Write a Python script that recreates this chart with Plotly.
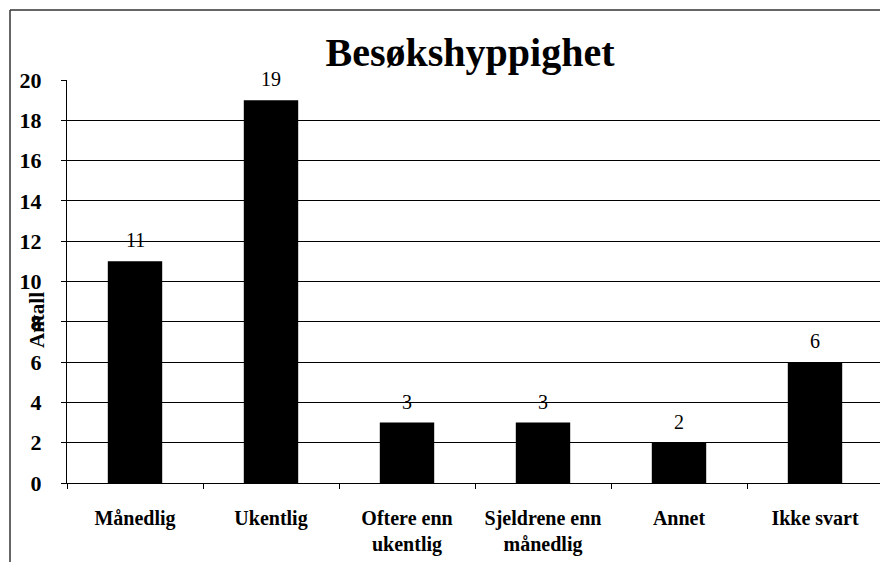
import plotly.graph_objects as go

categories = ["Månedlig", "Ukentlig", "Oftere enn<br>ukentlig", "Sjeldrene enn<br>månedlig", "Annet", "Ikke svart"]
values = [11, 19, 3, 3, 2, 6]
y_ticks = [0, 2, 4, 6, 8, 10, 12, 14, 16, 18, 20]

W, H = 880, 562
L, R, T, B = 67, 0, 80, 79
pw, ph = W - L - R, H - T - B

def px_x(x):
    return (x - L) / pw

def px_y(y):
    return (H - B - y) / ph

font_fam = "Liberation Serif, DejaVu Serif, serif"

fig = go.Figure()
fig.add_trace(go.Bar(
    x=categories, y=values, width=0.4,
    marker=dict(color="black", line=dict(width=0)),
    hoverinfo="skip",
))

annotations = [dict(
    x=c, y=v, xref="x", yref="y", text=str(v), showarrow=False,
    yanchor="bottom", yshift=8,
    font=dict(family=font_fam, size=20, color="black"),
) for c, v in zip(categories, values)]

annotations.append(dict(
    text="Antall", textangle=-90, xref="paper", yref="paper",
    x=px_x(37), y=px_y(320), showarrow=False, xanchor="center", yanchor="middle",
    font=dict(family=font_fam, size=21, color="black", weight="bold"),
))

fig.update_layout(
    width=W, height=H,
    margin=dict(l=L, r=R, t=T, b=B),
    paper_bgcolor="white", plot_bgcolor="white",
    showlegend=False,
    title=dict(text="Besøkshyppighet", xref="container", x=470 / W, xanchor="center",
               yref="container", y=1 - 52 / H, yanchor="middle",
               font=dict(family=font_fam, size=40, color="black", weight="bold")),
    xaxis=dict(
        type="category", range=[-0.5, -0.5 + pw / 136], tickson="boundaries",
        ticks="outside", ticklen=5, tickcolor="black", automargin=False,
        showgrid=False, showline=True, linecolor="black", linewidth=1,
        tickfont=dict(family=font_fam, size=20, color="black", weight="bold"),
        ticklabelstandoff=17,
    ),
    yaxis=dict(
        range=[0, 20], tickvals=y_ticks, ticks="outside", ticklen=5, tickcolor="black",
        showgrid=True, gridcolor="black", gridwidth=1, automargin=False,
        showline=True, linecolor="black", linewidth=1, zeroline=False,
        tickfont=dict(family=font_fam, size=22, color="black", weight="bold"),
        ticklabelstandoff=15,
    ),
    annotations=annotations,
    shapes=[
        dict(type="line", xref="paper", yref="paper", x0=px_x(10), x1=px_x(10),
             y0=px_y(10), y1=px_y(562), line=dict(color="#333", width=1.5)),
        dict(type="line", xref="paper", yref="paper", x0=px_x(10), x1=px_x(880),
             y0=px_y(10), y1=px_y(10), line=dict(color="#333", width=1.5)),
    ],
)

fig.write_html("out.html", config={"displayModeBar": False},
               post_script="document.body.style.margin='0';")
